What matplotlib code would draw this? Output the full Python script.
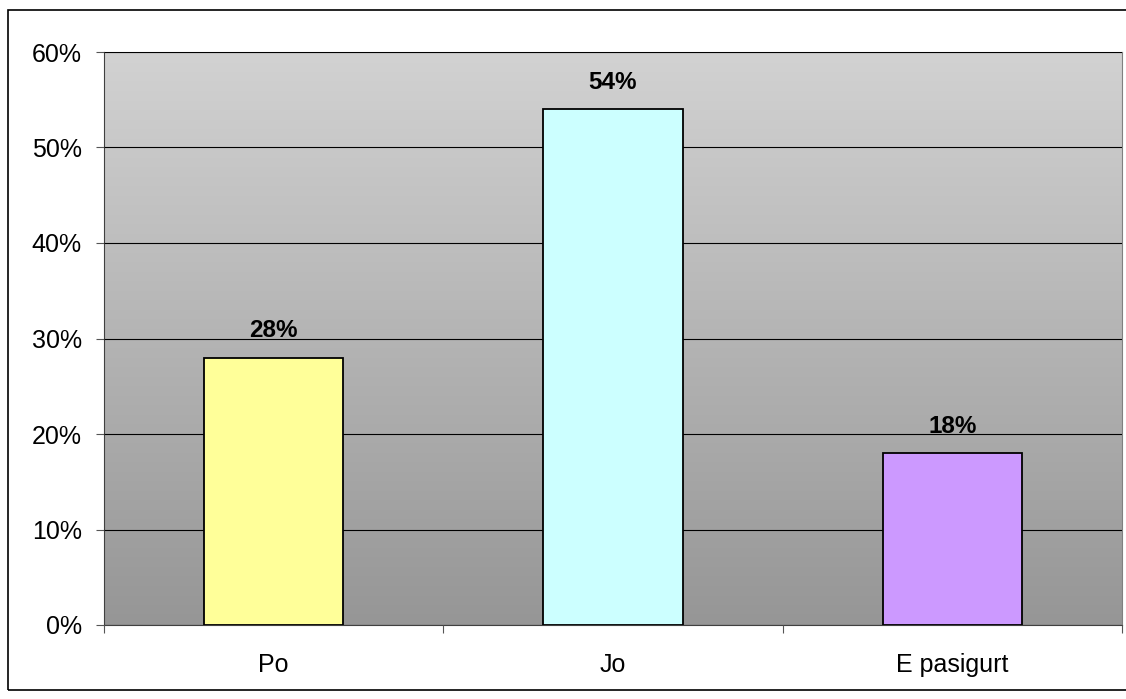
import numpy as np
import matplotlib.pyplot as plt
from matplotlib.patches import Rectangle
from matplotlib.colors import LinearSegmentedColormap

plt.rcParams['font.family'] = ['Liberation Sans', 'DejaVu Sans']

categories = ["Po", "Jo", "E pasigurt"]
values = [28, 54, 18]
labels = ["28%", "54%", "18%"]
colors = ["#ffff99", "#ccffff", "#cc99ff"]

fig = plt.figure(figsize=(11.26, 6.99), dpi=100)
ax = fig.add_axes([104/1126, 1-625/699, (1122-104)/1126, (625-52)/699])

# outer chart border
fig.patches.append(Rectangle((8/1126, 1-690/699), 1.2, (690-10)/699,
                             transform=fig.transFigure, fill=False,
                             edgecolor='black', linewidth=1.2))

# gradient background
grad = np.linspace(0, 1, 256).reshape(-1, 1)
cmap = LinearSegmentedColormap.from_list('g', ['#969696', '#d2d2d2'])
ax.imshow(grad, extent=[-0.5, 2.5, 0, 60], aspect='auto', origin='lower',
          cmap=cmap, zorder=0)

x = np.arange(len(categories))
ax.bar(x, values, width=0.41, color=colors, edgecolor='black', linewidth=1.3, zorder=3)
for xi, v, lab in zip(x, values, labels):
    ax.text(xi, v + 1.6, lab, ha='center', va='bottom', fontsize=17.5, fontweight='bold', zorder=4)

ax.set_xlim(-0.5, 2.5)
ax.set_ylim(0, 60)
ax.set_yticks(range(0, 61, 10))
ax.set_yticklabels([f"{t}%" for t in range(0, 61, 10)], fontsize=18)
ax.yaxis.grid(True, color='black', linewidth=0.8, zorder=1)
ax.set_axisbelow(False)

ax.set_xticks([-0.5, 0.5, 1.5, 2.5])
ax.set_xticklabels([])
ax.set_xticks(x, minor=True)
ax.set_xticklabels(categories, minor=True, fontsize=18)
ax.tick_params(axis='x', which='minor', length=0, pad=20)
ax.tick_params(axis='x', which='major', length=6, color='#555555')
ax.tick_params(axis='y', length=6, color='#555555', pad=10)

for s in ['top', 'right']:
    ax.spines[s].set_color('#808080')
ax.spines['left'].set_color('#404040')
ax.spines['bottom'].set_color('#404040')

fig.savefig("out.png", dpi=100)
